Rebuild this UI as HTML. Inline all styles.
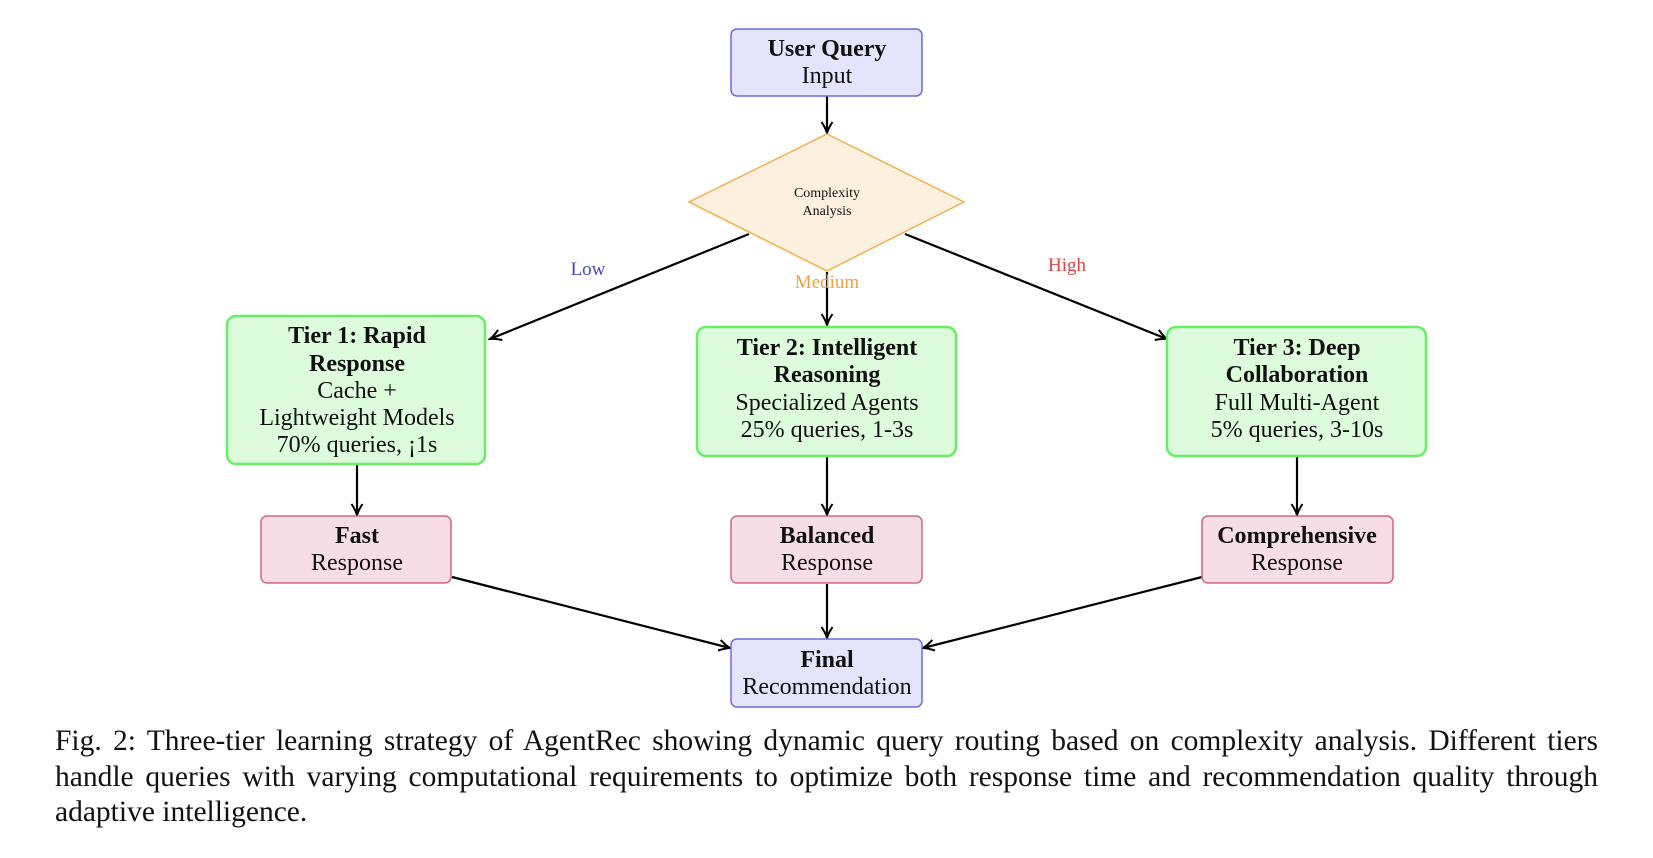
<!DOCTYPE html>
<html><head><meta charset="utf-8"><style>
html,body{margin:0;padding:0;background:#fff;}
svg text{font-family:"Liberation Serif",serif;}
.cap{position:absolute;left:55px;top:724px;width:1543px;font-family:"Liberation Serif",serif;font-size:29.5px;line-height:35.5px;text-align:justify;color:#111;}
</style></head><body>
<div style="position:relative;width:1653px;height:858px;overflow:hidden;">
<svg width="1653" height="858" viewBox="0 0 1653 858" style="position:absolute;left:0;top:0">
<defs><marker id="a" markerWidth="14" markerHeight="14" refX="12" refY="7" orient="auto" markerUnits="userSpaceOnUse"><path d="M1,1.5 Q7,5.5 12,7 Q7,8.5 1,12.5" fill="none" stroke="#000" stroke-width="2"/></marker></defs>
<g transform="translate(-3,-1)">
<g stroke="#000" stroke-width="2.2" fill="none" marker-end="url(#a)">
<line x1="830" y1="97" x2="830" y2="134"/>
<line x1="752" y1="235" x2="493" y2="340"/>
<line x1="908" y1="235" x2="1170" y2="340"/>
<line x1="830" y1="273" x2="830" y2="326"/>
<line x1="360" y1="466" x2="360" y2="516"/>
<line x1="830" y1="457" x2="830" y2="516"/>
<line x1="1300" y1="457" x2="1300" y2="516"/>
<line x1="455" y1="578" x2="733" y2="649"/>
<line x1="1205" y1="578" x2="926" y2="649"/>
<line x1="830" y1="585" x2="830" y2="639"/>
</g>
<g font-size="24" text-anchor="middle" fill="#111">
<rect x="734" y="30" width="191" height="67" rx="6" fill="#e4e4fc" stroke="#6b6bdc" stroke-width="1.5"/>
<text x="830" y="57" font-weight="bold">User Query</text><text x="830" y="84">Input</text>
<polygon points="830,135 967,203 830,272 692,203" fill="#fdf0de" stroke="#f0b050" stroke-width="1.5"/>
<text x="830" y="198" font-size="14">Complexity</text><text x="830" y="216" font-size="14">Analysis</text>
<rect x="230" y="317" width="258" height="148" rx="9" fill="#dcfcdc" stroke="#66ee66" stroke-width="2.5"/>
<text x="360" y="344" font-weight="bold">Tier 1: Rapid</text><text x="360" y="372" font-weight="bold">Response</text>
<text x="360" y="399">Cache +</text><text x="360" y="426">Lightweight Models</text><text x="360" y="453">70% queries, ¡1s</text>
<rect x="700" y="328" width="259" height="129" rx="9" fill="#dcfcdc" stroke="#66ee66" stroke-width="2.5"/>
<text x="830" y="356" font-weight="bold">Tier 2: Intelligent</text><text x="830" y="383" font-weight="bold">Reasoning</text>
<text x="830" y="411">Specialized Agents</text><text x="830" y="438">25% queries, 1-3s</text>
<rect x="1170" y="328" width="259" height="129" rx="9" fill="#dcfcdc" stroke="#66ee66" stroke-width="2.5"/>
<text x="1300" y="356" font-weight="bold">Tier 3: Deep</text><text x="1300" y="383" font-weight="bold">Collaboration</text>
<text x="1300" y="411">Full Multi-Agent</text><text x="1300" y="438">5% queries, 3-10s</text>
<rect x="264" y="517" width="190" height="67" rx="6" fill="#f6dde6" stroke="#cc6688" stroke-width="1.5"/>
<text x="360" y="544" font-weight="bold">Fast</text><text x="360" y="571">Response</text>
<rect x="734" y="517" width="191" height="67" rx="6" fill="#f6dde6" stroke="#cc6688" stroke-width="1.5"/>
<text x="830" y="544" font-weight="bold">Balanced</text><text x="830" y="571">Response</text>
<rect x="1205" y="517" width="191" height="67" rx="6" fill="#f6dde6" stroke="#cc6688" stroke-width="1.5"/>
<text x="1300" y="544" font-weight="bold">Comprehensive</text><text x="1300" y="571">Response</text>
<rect x="734" y="640" width="191" height="68" rx="6" fill="#e4e4fc" stroke="#6b6bdc" stroke-width="1.5"/>
<text x="830" y="668" font-weight="bold">Final</text><text x="830" y="695">Recommendation</text>
<text x="591" y="276" font-size="19" fill="#4444cc">Low</text>
<text x="830" y="289" font-size="19" fill="#f0a040">Medium</text>
<text x="1070" y="272" font-size="19" fill="#dd4444">High</text>
</g>
</g>
</svg>
<div class="cap">Fig. 2: Three-tier learning strategy of AgentRec showing dynamic query routing based on complexity analysis. Different tiers handle queries with varying computational requirements to optimize both response time and recommendation quality through adaptive intelligence.</div>
</div>
</body></html>
